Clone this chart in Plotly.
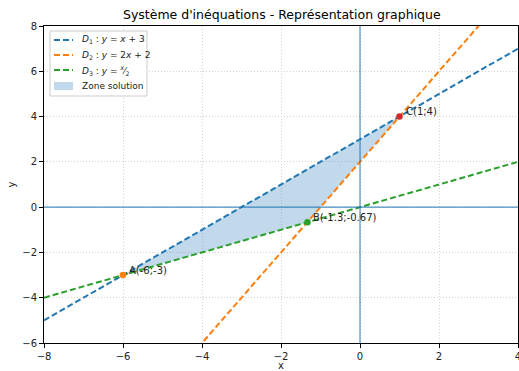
import plotly.graph_objects as go

# Line endpoints at x = -8 and x = 4
x_ends = [-8, 4]
d1_y = [-5, 7]
d2_y = [-14, 10]
d3_y = [-4, 2]

# Key points
pt_names = ["A(-6;-3)", "B(-1.3;-0.67)", "C(1;4)"]
pt_x = [-6, -1.33, 1]
pt_y = [-3, -0.67, 4]
pt_colors = ["#ff7f0e", "#2ca02c", "#d62728"]

# Solution zone polygon vertices
zone_x = [-6, -1.33, 1, -6]
zone_y = [-3, -0.67, 4, -3]

line_names = ["<i>D</i><sub>1</sub> : <i>y</i> = <i>x</i> + 3",
              "<i>D</i><sub>2</sub> : <i>y</i> = 2<i>x</i> + 2",
              "<i>D</i><sub>3</sub> : <i>y</i> = <sup><i>x</i></sup>⁄<sub>2</sub>"]
line_colors = ["#1f77b4", "#ff7f0e", "#2ca02c"]
zone_name = "Zone solution"
zone_fill = "rgba(31,119,180,0.28)"

W, H = 519, 371
L, R, T, B = 44, 1, 26, 28
PW, PH = W - L - R, H - T - B

def px(fx):
    return (fx - L) / PW

def py(fy):
    return 1 - (fy - T) / PH

fig = go.Figure()

fig.add_trace(go.Scatter(x=zone_x, y=zone_y, mode="lines", fill="toself",
                         fillcolor=zone_fill, line=dict(width=0, color="rgba(0,0,0,0)"),
                         name=zone_name, showlegend=False))

for ys, nm, col in zip([d1_y, d2_y, d3_y], line_names, line_colors):
    fig.add_trace(go.Scatter(x=x_ends, y=ys, mode="lines", line=dict(color=col, width=2, dash="6px,3px"),
                             name=nm, showlegend=False))

for n, x, y, c in zip(pt_names, pt_x, pt_y, pt_colors):
    fig.add_trace(go.Scatter(x=[x], y=[y], mode="markers", marker=dict(color=c, size=6.5),
                             showlegend=False))
    fig.add_annotation(x=x, y=y, text=n, showarrow=False, xanchor="left", yanchor="middle",
                       xshift=4, yshift=5, font=dict(size=10, color="#222"))

# Axes through origin
fig.add_shape(type="line", xref="x", yref="paper", x0=0, x1=0, y0=0, y1=1,
              line=dict(color="rgba(31,119,180,0.8)", width=1.2), layer="above")
fig.add_shape(type="line", xref="paper", yref="y", x0=0, x1=1, y0=0, y1=0,
              line=dict(color="rgba(31,119,180,0.8)", width=1.2), layer="above")

# Manual legend (screen px coords)
fig.add_shape(type="rect", xref="paper", yref="paper", x0=px(50), x1=px(147), y0=py(96), y1=py(31),
              line=dict(color="#cccccc", width=1), fillcolor="rgba(255,255,255,0.85)", layer="above")
rows = [40, 55, 70, 86]
for fy, nm, col in zip(rows[:3], line_names, line_colors):
    fig.add_shape(type="line", xref="paper", yref="paper", x0=px(54), x1=px(73), y0=py(fy), y1=py(fy),
                  line=dict(color=col, width=2, dash="6px,3px"), layer="above")
    fig.add_annotation(xref="paper", yref="paper", x=px(80), y=py(fy), text=nm, showarrow=False,
                       xanchor="left", yanchor="middle", font=dict(size=9, color="#222"))
fig.add_shape(type="rect", xref="paper", yref="paper", x0=px(54), x1=px(73), y0=py(rows[3] + 4),
              y1=py(rows[3] - 4), line=dict(width=0), fillcolor=zone_fill, layer="above")
fig.add_annotation(xref="paper", yref="paper", x=px(80), y=py(rows[3]), text=zone_name, showarrow=False,
                   xanchor="left", yanchor="middle", font=dict(size=9, color="#222"))

axis_common = dict(showgrid=True, gridcolor="#d4d4d4", griddash="1px,2px", gridwidth=1,
                   showline=True, linecolor="black", linewidth=1, mirror=True,
                   ticks="outside", ticklen=4, tickcolor="black",
                   zeroline=False, automargin=False, ticklabeloverflow="allow",
                   tickfont=dict(size=10, color="#222"))

fig.update_xaxes(range=[-8, 4], dtick=2, title=dict(text="x", font=dict(size=10), standoff=5), **axis_common)
fig.update_yaxes(range=[-6, 8], dtick=2, title=dict(text="y", font=dict(size=10), standoff=4), **axis_common)

fig.update_layout(
    width=W, height=H,
    margin=dict(l=L, r=R, t=T, b=B),
    paper_bgcolor="white", plot_bgcolor="white",
    font=dict(family="DejaVu Sans", color="#222"),
    title=dict(text="Système d'inéquations - Représentation graphique", x=0.543, xanchor="center",
               y=1 - 15 / H, yanchor="middle", font=dict(size=12.5, color="black"), automargin=False),
    showlegend=False,
)

fig.write_html("out.html", config={"displayModeBar": False},
               post_script="document.body.style.margin='0';document.body.style.overflow='hidden';")
